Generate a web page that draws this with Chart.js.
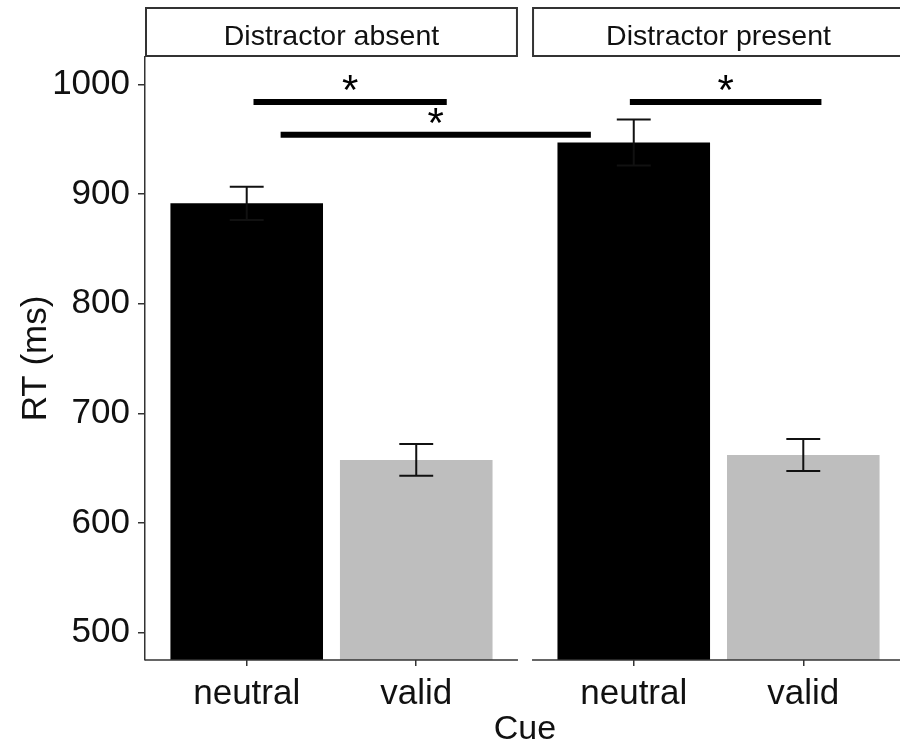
<!DOCTYPE html>
<html>
<head>
<meta charset="utf-8">
<script src="https://cdn.jsdelivr.net/npm/chart.js@4.4.0/dist/chart.umd.min.js"></script>
<style>
  html, body { margin: 0; padding: 0; background: #fff; overflow: hidden; }
  #wrap { position: relative; width: 910px; height: 747px; }
</style>
</head>
<body>
<div id="wrap"><canvas id="c" width="910" height="747"></canvas></div>
<script>
// Mean response time by cue type, one facet per distractor condition
const panels = ['Distractor absent', 'Distractor present'];
const cues = ['neutral', 'valid'];
const meanRT = [891.5, 657.5, 947, 662];   // absent: neutral, valid | present: neutral, valid
const seRT = [15.2, 14.5, 21, 14.5];
const barColors = ['#000000', '#bebebe', '#000000', '#bebebe'];
const yTicks = [500, 600, 700, 800, 900, 1000];
const yLimits = [500, 1000];

// Significance brackets (x in facet-continuous cue units, y in ms)
const sigFrom = [1.04, 1.2, 3.26];
const sigTo = [2.18, 3.03, 4.39];
const sigY = [984, 954, 984];
const sigLabel = ['*', '*', '*'];

// Facet geometry: each panel spans its categories +/- 0.6, panels separated by a small gap
const catExpand = 0.6;
const panelSpan = cues.length - 1 + 2 * catExpand;
const panelGap = 0.083;
const panelStart = panels.map((_, p) => 1 - catExpand + p * (panelSpan + panelGap));
const barX = [];
panels.forEach((_, p) => cues.forEach((_, c) => barX.push(panelStart[p] + catExpand + c)));

const yPad = (yLimits[1] - yLimits[0]) * 0.05;
const AXIS = '#333333';
const TEXT = '#111111';
const FONT = "'Liberation Sans', Arial, sans-serif";

const facetPlugin = {
  id: 'facets',
  afterDatasetsDraw(chart) {
    const { ctx, scales: { x, y } } = chart;
    ctx.save();

    // error bars (mean +/- SE)
    ctx.strokeStyle = '#111';
    ctx.lineWidth = 2;
    barX.forEach((xv, i) => {
      const px = x.getPixelForValue(xv);
      const hw = x.getPixelForValue(xv + 0.1) - px;
      const top = y.getPixelForValue(meanRT[i] + seRT[i]);
      const bot = y.getPixelForValue(meanRT[i] - seRT[i]);
      ctx.beginPath();
      ctx.moveTo(px - hw, top); ctx.lineTo(px + hw, top);
      ctx.moveTo(px, top); ctx.lineTo(px, bot);
      ctx.moveTo(px - hw, bot); ctx.lineTo(px + hw, bot);
      ctx.stroke();
    });

    // significance brackets
    ctx.strokeStyle = '#000';
    ctx.lineWidth = 6;
    ctx.lineCap = 'butt';
    ctx.fillStyle = '#000';
    ctx.font = '42px ' + FONT;
    ctx.textAlign = 'center';
    ctx.textBaseline = 'alphabetic';
    sigFrom.forEach((x1, i) => {
      const a = x.getPixelForValue(x1);
      const b = x.getPixelForValue(sigTo[i]);
      const py = y.getPixelForValue(sigY[i]);
      ctx.beginPath();
      ctx.moveTo(a, py); ctx.lineTo(b, py);
      ctx.stroke();
      ctx.fillText(sigLabel[i], (a + b) / 2, py + 2);
    });
    ctx.restore();
  },
  afterDraw(chart) {
    const { ctx, chartArea, scales: { x } } = chart;
    ctx.save();
    panels.forEach((name, p) => {
      const x1 = x.getPixelForValue(panelStart[p]);
      const x2 = x.getPixelForValue(panelStart[p] + panelSpan);
      // bottom axis line of the panel
      ctx.strokeStyle = AXIS;
      ctx.lineWidth = 1.5;
      ctx.beginPath();
      ctx.moveTo(x1, chartArea.bottom);
      ctx.lineTo(x2, chartArea.bottom);
      ctx.stroke();
      // strip label box
      const sTop = 7, sBot = chartArea.top;
      ctx.fillStyle = '#fff';
      ctx.fillRect(x1, sTop, x2 - x1, sBot - sTop);
      ctx.strokeStyle = AXIS;
      ctx.lineWidth = 2;
      ctx.strokeRect(x1 + 1, sTop + 1, x2 - x1 - 2, sBot - sTop - 2);
      ctx.fillStyle = TEXT;
      ctx.font = '28.5px ' + FONT;
      ctx.textAlign = 'center';
      ctx.textBaseline = 'alphabetic';
      ctx.fillText(name, (x1 + x2) / 2, 45);
    });
    ctx.restore();
  }
};

new Chart(document.getElementById('c'), {
  type: 'bar',
  data: {
    datasets: [{
      data: barX.map((xv, i) => ({ x: xv, y: meanRT[i] })),
      backgroundColor: barColors,
      borderWidth: 0,
      categoryPercentage: 1,
      barPercentage: 0.9
    }]
  },
  options: {
    responsive: false,
    animation: false,
    events: [],
    layout: { padding: { top: 57, right: 5, bottom: 0, left: 0 } },
    plugins: { legend: { display: false }, tooltip: { enabled: false } },
    scales: {
      x: {
        type: 'linear',
        offset: false,
        min: panelStart[0],
        max: panelStart[panels.length - 1] + panelSpan,
        afterBuildTicks: s => { s.ticks = barX.map(v => ({ value: v })); },
        afterFit: s => { s.height = 87; },
        border: { display: false },
        grid: { display: true, offset: false, drawOnChartArea: false, drawTicks: true, tickLength: 6, color: AXIS, lineWidth: 1.5 },
        ticks: {
          autoSkip: false, maxRotation: 0, padding: 7, color: TEXT,
          font: { family: FONT, size: 35 },
          callback: (v, i) => cues[i % cues.length]
        },
        title: {
          display: true, text: 'Cue', color: TEXT,
          font: { family: FONT, size: 34, lineHeight: 1 },
          padding: { top: 0, bottom: 0 }
        }
      },
      y: {
        type: 'linear',
        min: yLimits[0] - yPad,
        max: yLimits[1] + yPad,
        afterBuildTicks: s => { s.ticks = yTicks.map(v => ({ value: v })); },
        afterFit: s => { s.width = 145; },
        border: { display: true, color: AXIS, width: 1.5 },
        grid: { display: true, drawOnChartArea: false, drawTicks: true, tickLength: 7, color: AXIS, lineWidth: 1.5 },
        ticks: {
          padding: 8, color: TEXT,
          font: { family: FONT, size: 35 },
          callback: v => String(v)
        },
        title: {
          display: true, text: 'RT (ms)', color: TEXT,
          font: { family: FONT, size: 35, lineHeight: 1 },
          padding: { top: 19, bottom: 0 }
        }
      }
    }
  },
  plugins: [facetPlugin]
});
</script>
</body>
</html>
